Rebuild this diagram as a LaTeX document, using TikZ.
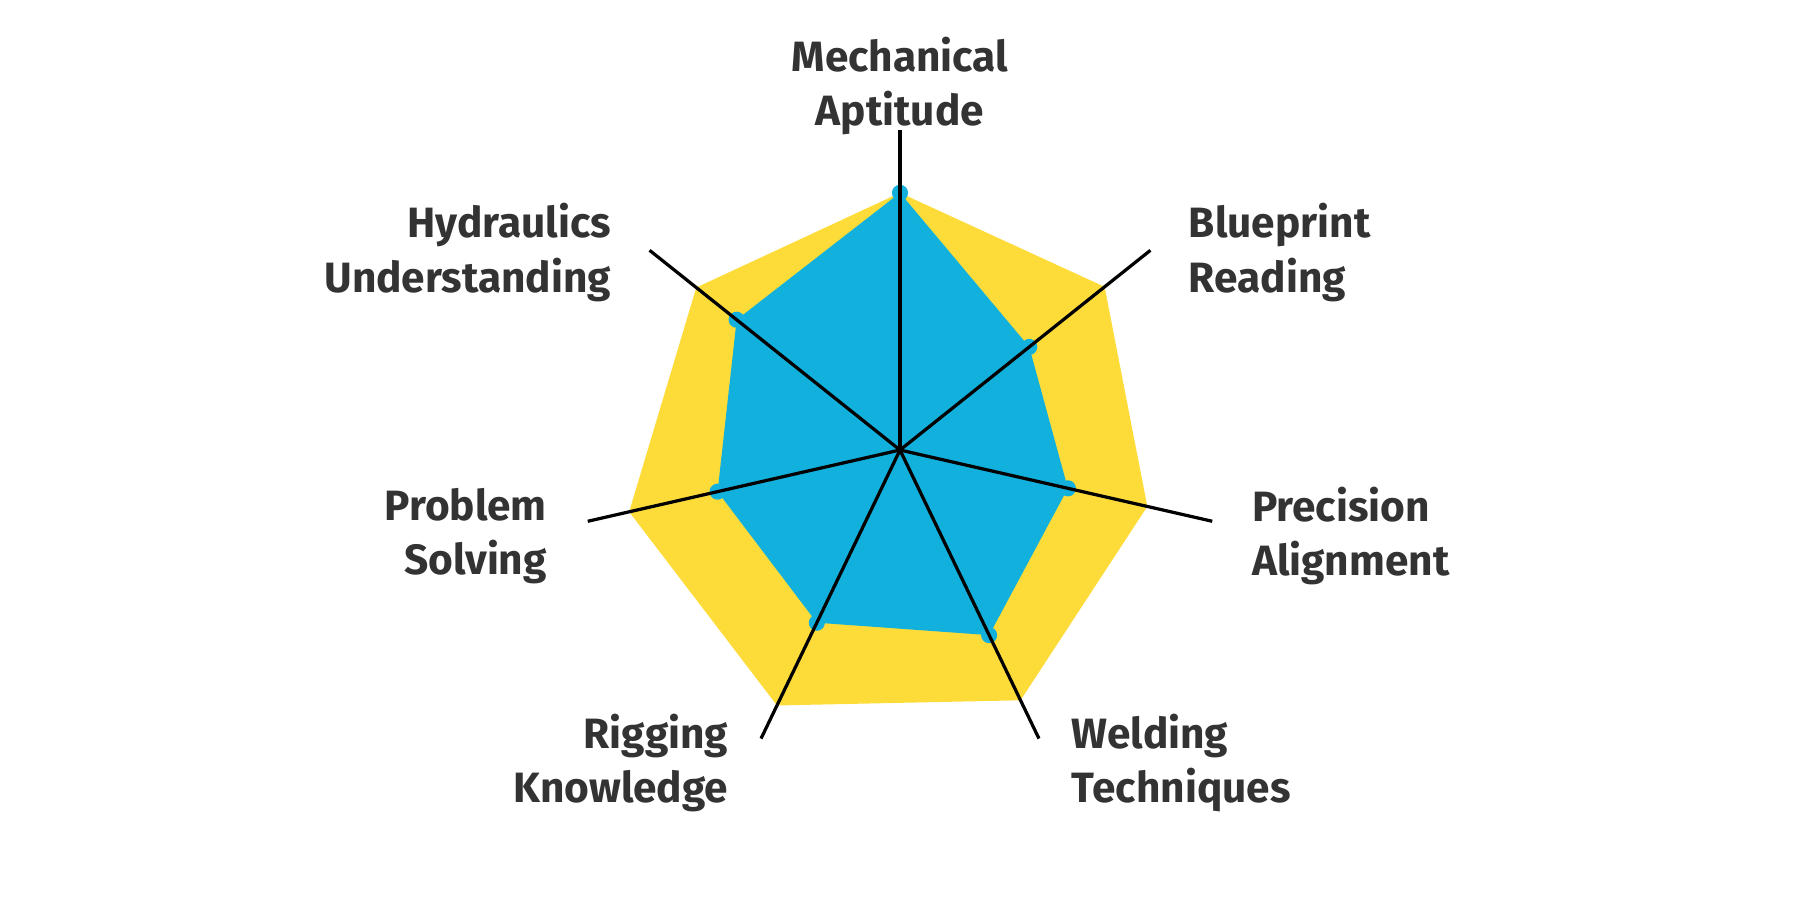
\documentclass[tikz,border=0pt]{standalone}
\usepackage{fontspec}
\setmainfont{Fira Sans}
\usetikzlibrary{positioning,calc}
\definecolor{skyblue}{HTML}{12B0DD}
\definecolor{sunyellow}{HTML}{FDDC3A}
\definecolor{inkgrey}{HTML}{333333}
\tikzset{
  lbl/.style = {font=\fontsize{10.5}{13.4}\selectfont\bfseries, text=inkgrey,
    inner sep=0pt},% axis label
  lbl_l/.style = {lbl, align=left, anchor=west},
  lbl_r/.style = {lbl, align=right, anchor=east},
  spoke/.style = {draw=black, line width=0.8pt},
  vdot/.style = {circle, fill=skyblue, inner sep=0pt, minimum size=4pt}
}
\begin{document}
\begin{tikzpicture}[x=0.01cm,y=-0.01cm]
\useasboundingbox (0,0) rectangle (1568,784);
\coordinate (c) at (784,392);
% outer (yellow) and inner (blue) values per axis
\foreach \i/\yo/\bl in {0/224/224,1/228/144,2/221/150,3/242/179,4/247/167,5/242/163,6/227/182}{
  \pgfmathsetmacro{\ang}{\i*360/7-90}
  \coordinate (y\i) at ($(c)+(\ang:\yo)$);
  \coordinate (b\i) at ($(c)+(\ang:\bl)$);
  \coordinate (e\i) at ($(c)+(\ang:279)$);
}
\fill[sunyellow] (y0)--(y1)--(y2)--(y3)--(y4)--(y5)--(y6)--cycle;
\fill[skyblue] (b0)--(b1)--(b2)--(b3)--(b4)--(b5)--(b6)--cycle;
\foreach \i in {0,...,6}{
  \node[vdot] (d\i) at (b\i) {};
  \draw[spoke] (c) -- (e\i);
}
% labels
\node[lbl, align=center] (mech) at (784,75) {Mechanical\\Aptitude};
\node[lbl_l] (blue) at (1035,220) {Blueprint\\Reading};
\node[lbl_l] (prec) at (1090,467) {Precision\\Alignment};
\node[lbl_l] (weld) at (933,665) {Welding\\Techniques};
\node[lbl_r] (rigg) at (635,665) {Rigging\\Knowledge};
\node[lbl_r] (prob) at (477,467) {Problem\\Solving};
\node[lbl_r] (hydr) at (533,220) {Hydraulics\\Understanding};
\end{tikzpicture}
\end{document}
